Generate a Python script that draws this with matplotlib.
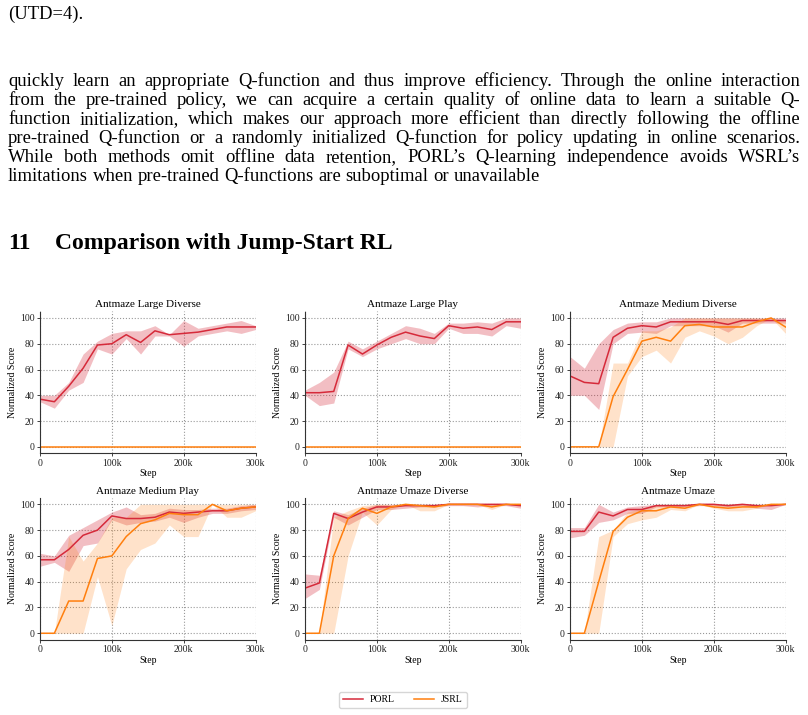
import numpy as np
import matplotlib
matplotlib.use("Agg")
import matplotlib.pyplot as plt

plt.rcParams['font.family'] = ['Liberation Serif', 'DejaVu Serif']

# ---- data (scores) ----
steps = [0, 20, 40, 60, 80, 100, 120, 140, 160, 180, 200, 220, 240, 260, 280, 300]  # x1000

titles = ['Antmaze Large Diverse', 'Antmaze Large Play', 'Antmaze Medium Diverse',
          'Antmaze Medium Play', 'Antmaze Umaze Diverse', 'Antmaze Umaze']

porl_mean = [
    [37, 35, 47, 61, 79, 80, 87, 81, 90, 87, 88, 89, 91, 93, 93, 93],
    [42, 42, 43, 79, 72, 79, 85, 89, 86, 84, 94, 92, 93, 91, 97, 97],
    [55, 50, 49, 85, 92, 94, 93, 97, 97, 97, 97, 95, 98, 98, 98, 98],
    [57, 57, 65, 76, 80, 91, 89, 89, 90, 94, 93, 94, 95, 95, 97, 98],
    [35, 39, 93, 89, 94, 98, 98, 99, 99, 99, 100, 100, 100, 100, 100, 99],
    [79, 79, 94, 91, 96, 96, 99, 99, 99, 100, 100, 99, 100, 99, 99, 100],
]
porl_low = [
    [35, 30, 44, 50, 76, 72, 84, 72, 86, 86, 78, 86, 88, 90, 88, 91],
    [40, 32, 34, 76, 70, 76, 80, 84, 80, 80, 92, 88, 88, 86, 94, 92],
    [40, 40, 29, 80, 88, 89, 88, 94, 94, 94, 94, 89, 96, 96, 96, 96],
    [52, 55, 48, 68, 70, 88, 84, 86, 87, 90, 86, 90, 93, 93, 95, 96],
    [27, 34, 90, 84, 90, 96, 96, 97, 98, 98, 99, 99, 98, 99, 99, 97],
    [74, 76, 86, 88, 93, 93, 98, 98, 98, 99, 99, 98, 99, 97, 96, 100],
]
porl_high = [
    [40, 40, 50, 72, 82, 88, 90, 90, 94, 87, 98, 92, 94, 96, 98, 94],
    [44, 50, 58, 82, 76, 82, 88, 94, 92, 88, 96, 96, 97, 96, 100, 100],
    [70, 61, 80, 91, 96, 97, 97, 100, 100, 100, 100, 100, 100, 100, 100, 100],
    [62, 60, 76, 82, 88, 94, 98, 92, 93, 97, 96, 96, 97, 97, 99, 100],
    [46, 45, 95, 92, 97, 100, 100, 100, 100, 100, 100, 100, 100, 100, 100, 100],
    [82, 82, 100, 94, 98, 99, 100, 100, 100, 100, 100, 100, 100, 100, 100, 100],
]

jsrl_mean = [
    [0] * 16,
    [0] * 16,
    [0, 0, 0, 39, 60, 82, 85, 82, 94, 95, 93, 93, 93, 97, 100, 93],
    [0, 0, 25, 25, 58, 60, 75, 85, 88, 93, 92, 92, 100, 95, 97, 98],
    [0, 0, 60, 89, 97, 93, 98, 100, 99, 98, 100, 100, 100, 98, 100, 100],
    [0, 0, 40, 79, 90, 95, 95, 98, 97, 100, 98, 97, 98, 98, 100, 100],
]
jsrl_low = [
    [0] * 16,
    [0] * 16,
    [0, 0, 0, 0, 55, 70, 75, 65, 85, 90, 86, 80, 85, 94, 100, 88],
    [0, 0, 0, 0, 44, 6, 50, 65, 70, 84, 75, 75, 100, 90, 90, 95],
    [0, 0, 0, 60, 94, 84, 96, 100, 95, 95, 100, 100, 100, 96, 100, 100],
    [0, 0, 0, 75, 85, 88, 90, 96, 95, 100, 97, 95, 95, 97, 100, 100],
]
jsrl_high = [
    [0] * 16,
    [0] * 16,
    [0, 0, 0, 65, 65, 90, 90, 93, 100, 100, 100, 100, 100, 100, 100, 98],
    [0, 0, 75, 56, 70, 90, 90, 100, 100, 100, 100, 100, 100, 100, 100, 100],
    [0, 0, 90, 95, 99, 100, 100, 100, 100, 100, 100, 100, 100, 100, 100, 100],
    [0, 0, 75, 80, 94, 97, 100, 100, 100, 100, 100, 100, 100, 100, 100, 100],
]

porl_color = '#d62a3a'
jsrl_color = '#ff7f0e'

paragraph = [
    "quickly learn an appropriate Q-function and thus improve efficiency. Through the online interaction",
    "from the pre-trained policy, we can acquire a certain quality of online data to learn a suitable Q-",
    "function initialization, which makes our approach more efficient than directly following the offline",
    "pre-trained Q-function or a randomly initialized Q-function for policy updating in online scenarios.",
    "While both methods omit offline data retention, PORL\u2019s Q-learning independence avoids WSRL\u2019s",
    "limitations when pre-trained Q-functions are suboptimal or unavailable",
]

W, H = 808, 715
fig = plt.figure(figsize=(W / 100, H / 100), dpi=100)
renderer = fig.canvas.get_renderer()

body_size = 13.4


def justified(line, y, x0=8, x1=800, size=body_size, justify=True):
    words = line.split(' ')
    texts = [fig.text(0, 1 - y / H, w, fontsize=size, va='baseline', ha='left') for w in words]
    widths = [t.get_window_extent(renderer).width for t in texts]
    gap = size * 100 / 72 * 0.25
    if justify and len(words) > 1:
        gap = (x1 - x0 - sum(widths)) / (len(words) - 1)
    x = x0
    for t, w in zip(texts, widths):
        t.set_x(x / W)
        x += w + gap


fig.text(8 / W, 1 - 19 / H, "(UTD=4).", fontsize=body_size, va='baseline')
for i, line in enumerate(paragraph):
    justified(line, 86 + i * 19, justify=(i < len(paragraph) - 1))

fig.text(8 / W, 1 - 249 / H, "11", fontsize=17, fontweight='bold', va='baseline')
fig.text(55 / W, 1 - 249 / H, "Comparison with Jump-Start RL", fontsize=17,
         fontweight='bold', va='baseline')

lefts = [40, 305, 570]
bottoms = [453.3, 639.7]
aw, ah = 215.5, 141.8

x = np.array(steps)
for k in range(6):
    r, c = divmod(k, 3)
    ax = fig.add_axes([lefts[c] / W, 1 - bottoms[r] / H, aw / W, ah / H])
    ax.fill_between(x, porl_low[k], porl_high[k], color=porl_color, alpha=0.3, lw=0)
    ax.fill_between(x, jsrl_low[k], jsrl_high[k], color=jsrl_color, alpha=0.22, lw=0)
    ax.plot(x, porl_mean[k], color=porl_color, lw=1.1, label='PORL')
    ax.plot(x, jsrl_mean[k], color=jsrl_color, lw=1.1, label='JSRL')
    ax.set_xlim(0, 300)
    ax.set_ylim(-5, 105)
    ax.set_xticks([0, 100, 200, 300])
    ax.set_xticklabels(['0', '100k', '200k', '300k'])
    ax.set_yticks([0, 20, 40, 60, 80, 100])
    ax.grid(True, color='#999999', ls=':', lw=0.8)
    ax.set_axisbelow(True)
    for s in ['top', 'right']:
        ax.spines[s].set_visible(False)
    for s in ['left', 'bottom']:
        ax.spines[s].set_linewidth(0.8)
        ax.spines[s].set_color('#333333')
    ax.tick_params(labelsize=7, length=2.5, width=0.6, pad=1.5, colors='#222222')
    ax.set_title(titles[k], fontsize=8, pad=3)
    ax.set_xlabel('Step', fontsize=7, labelpad=1)
    ax.set_ylabel('Normalized Score', fontsize=7, labelpad=2)

handles, labels = ax.get_legend_handles_labels()
fig.legend(handles, labels, loc='center', bbox_to_anchor=(403 / W, 1 - 700 / H), ncol=2,
           fontsize=7, frameon=True, fancybox=True, edgecolor='#cccccc',
           handlelength=2.0, handletextpad=0.75, columnspacing=2.0, borderpad=0.4)

fig.savefig('out.png', dpi=100)
